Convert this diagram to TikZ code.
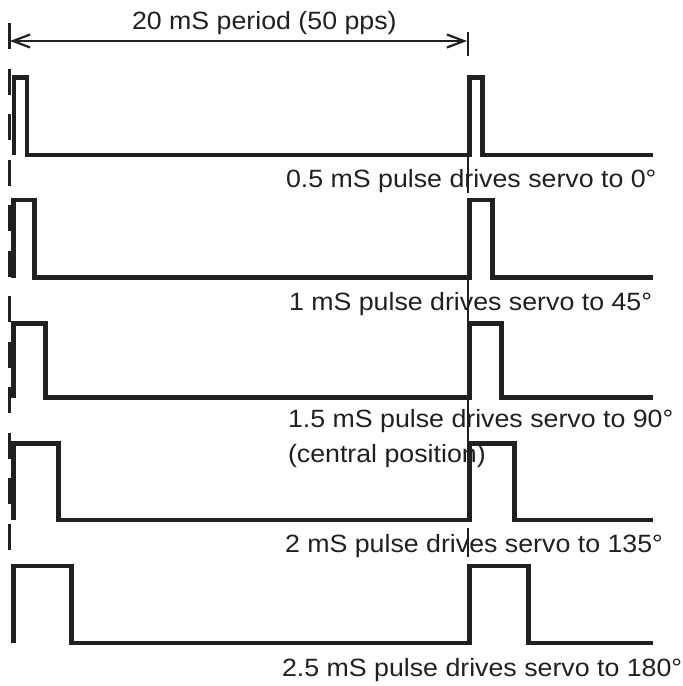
\documentclass[tikz,border=0pt]{standalone}
\usepackage{fontspec}
\setmainfont{Liberation Sans}[FakeStretch=1.07]
\usetikzlibrary{arrows.meta}
\definecolor{ink}{HTML}{231F20}
\begin{document}
\begin{tikzpicture}[x=1pt,y=-1pt,
  wave/.style={draw=ink,line width=4.8pt,miter limit=10},
  lbl/.style={anchor=base west,inner sep=0pt,outer sep=0pt,font=\fontsize{25}{30}\selectfont,text=ink},
  guide/.style={draw=ink,line width=2.4pt},
  dim/.style={draw=ink,line width=2.2pt,{Straight Barb[length=17pt,width=13pt]}-{Straight Barb[length=17pt,width=13pt]}}]
\useasboundingbox (0,0) rectangle (683,686);
% texts
\node[lbl] (t0) at (132,29) {20 mS period (50 pps)};
\node[lbl] (r1) at (286,187) {0.5 mS pulse drives servo to 0°};
\node[lbl] (r2) at (289,310) {1 mS pulse drives servo to 45°};
\node[lbl] (r3) at (288,427) {1.5 mS pulse drives servo to 90°};
\node[lbl] (r3b) at (288,462) {(central position)};
\node[lbl] (r4) at (285,552) {2 mS pulse drives servo to 135°};
\node[lbl] (r5) at (282,676) {2.5 mS pulse drives servo to 180°};
% dimension arrow
\coordinate (aL) at (10,41);
\coordinate (aR) at (467,41);
\draw[dim] (aL) -- (aR);
% left dashed guide (first dash is the tick)
\coordinate (gLt) at (9.5,23);
\coordinate (gLb) at (9.5,550);
\draw[guide,dash pattern=on 26pt off 19.5pt] (gLt) -- (gLb);
% right guide
\draw[guide] (468,32) -- (468,56);
\draw[guide] (468,157) -- (468,193);
\draw[guide] (468,280) -- (468,322);
\draw[guide] (468,400) -- (468,452);
\draw[guide] (468,528) -- (468,557);
% waveforms
\draw[wave] (14,155) |- (27,77.5) |- (469.5,155) |- (482.5,77.5) |- (653,155);
\draw[wave] (13.5,277.5) |- (34.5,200) |- (469.5,277.5) |- (492.5,200) |- (653,277.5);
\draw[wave] (13.5,397.5) |- (45.5,323.5) |- (469.5,397.5) |- (501.5,323.5) |- (653,397.5);
\draw[wave] (13.5,520) |- (58.5,443.5) |- (469.5,520) |- (514.5,443.5) |- (653,520);
\draw[wave] (13.5,643) |- (71.5,566) |- (469.5,643) |- (528.5,566) |- (653,643);
\end{tikzpicture}
\end{document}
